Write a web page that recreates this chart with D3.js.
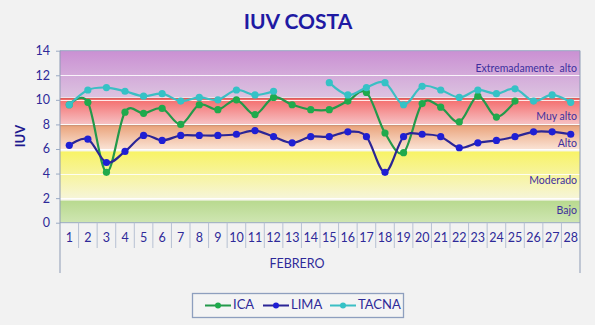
<!DOCTYPE html>
<html>
<head>
<meta charset="utf-8">
<script src="https://cdn.jsdelivr.net/npm/d3@7"></script>
<style>
  html, body { margin: 0; padding: 0; background: #f2f2f2; }
  svg { display: block; }
  text { font-family: Lato, "Open Sans", "DejaVu Sans", sans-serif; }
</style>
</head>
<body>
<svg id="chart" width="595" height="325"></svg>
<script>
// Days of February
const days = [1,2,3,4,5,6,7,8,9,10,11,12,13,14,15,16,17,18,19,20,21,22,23,24,25,26,27,28];

// Daily UV index per city (null = no reading)
const ica   = [9.6, 9.8, 4.1, 9.0, 8.9, 9.3, 8.0, 9.6, 9.2, 10.0, 8.8, 10.2, 9.6, 9.2, 9.2, 9.9, 10.6, 7.3, 5.7, 9.7, 9.4, 8.2, 10.3, 8.6, 9.9, null, null, null];
const lima  = [6.3, 6.8, 4.9, 5.8, 7.1, 6.7, 7.1, 7.1, 7.1, 7.2, 7.5, 7.0, 6.5, 7.0, 7.0, 7.4, 7.0, 4.1, 7.0, 7.2, 7.0, 6.1, 6.5, 6.7, 7.0, 7.4, 7.4, 7.2];
const tacna = [9.6, 10.8, 11.0, 10.7, 10.3, 10.5, 9.9, 10.2, 10.0, 10.8, 10.4, 10.7, null, null, 11.4, 10.4, 11.0, 11.4, 9.6, 11.1, 10.8, 10.2, 10.8, 10.5, 10.9, 9.9, 10.4, 9.8];

const seriesNames = ["ICA", "LIMA", "TACNA"];
const seriesValues = [ica, lima, tacna];

// Y axis ticks
const yTicks = [0, 2, 4, 6, 8, 10, 12, 14];

// UV risk categories: [lower, upper] limits
const bandNames  = ["Bajo", "Moderado", "Alto", "Muy alto", "Extremadamente alto"];
const bandLimits = [[0, 1.8], [2, 5.8], [6, 7.9], [8, 10.1], [10.2, 14]];

// ---- styles ----
const lineColors   = ["#23994a", "#2b2596", "#3bbfc4"];
const markerColors = ["#1faa4c", "#1f1fd4", "#35c2c6"];
const bandTop      = ["#b8d98f", "#f8f366", "#eaa47c", "#f46a6a", "#ca90d3"];
const bandBottom   = ["#cfe6b2", "#f6f5d8", "#fae2d4", "#f6c2c4", "#dcc3e0"];
const bandEdge     = [null, null, "#c98a6a", "#d9534f", null];
const textBlue = "#2e2a99";

const svg = d3.select("#chart");
const W = 595, H = 325;
const pLeft = 60, pRight = 580, pTop = 50.7, pBottom = 222.7;

svg.append("rect").attr("width", W).attr("height", H).attr("fill", "#f2f2f2");

const x = d3.scaleBand().domain(days).range([pLeft, pRight]).padding(0);
const y = d3.scaleLinear().domain([0, 14]).range([pBottom, pTop]);

// gradients for the category bands
const defs = svg.append("defs");
bandNames.forEach((n, i) => {
  const g = defs.append("linearGradient")
    .attr("id", "band" + i).attr("x1", 0).attr("y1", 0).attr("x2", 0).attr("y2", 1);
  g.append("stop").attr("offset", "0%").attr("stop-color", bandTop[i]);
  g.append("stop").attr("offset", "100%").attr("stop-color", bandBottom[i]);
});

// plot background (gaps between bands)
svg.append("rect")
  .attr("x", pLeft).attr("y", pTop)
  .attr("width", pRight - pLeft).attr("height", pBottom - pTop)
  .attr("fill", "#f7f6ee");

const bands = svg.append("g");
bandLimits.forEach((lim, i) => {
  bands.append("rect")
    .attr("x", pLeft).attr("width", pRight - pLeft)
    .attr("y", y(lim[1])).attr("height", y(lim[0]) - y(lim[1]))
    .attr("fill", `url(#band${i})`);
  if (bandEdge[i]) {
    bands.append("line")
      .attr("x1", pLeft).attr("x2", pRight)
      .attr("y1", y(lim[1])).attr("y2", y(lim[1]))
      .attr("stroke", bandEdge[i]).attr("stroke-width", 1);
  }
});

// horizontal gridlines
svg.append("g").selectAll("line")
  .data(yTicks.filter(t => t > 0 && t < 14))
  .join("line")
  .attr("x1", pLeft).attr("x2", pRight)
  .attr("y1", d => Math.round(y(d)) + 0.5).attr("y2", d => Math.round(y(d)) + 0.5)
  .attr("stroke", "#ffffff").attr("stroke-opacity", 0.85).attr("stroke-width", 1.2);

// category labels inside the plot
const bandLabelY = [0.95, 3.4, 6.4, 8.6, 12.5];
svg.append("g").selectAll("text")
  .data(bandNames)
  .join("text")
  .attr("x", pRight - 3)
  .attr("y", (d, i) => y(bandLabelY[i]))
  .attr("text-anchor", "end")
  .attr("dominant-baseline", "middle")
  .attr("font-size", 10.5)
  .attr("fill", "#3d2f9e")
  .attr("word-spacing", (d, i) => i === 4 ? 3 : 0)
  .text(d => d);

// frame
const frame = "#9aaac4";
svg.append("line").attr("x1", pLeft).attr("x2", pRight).attr("y1", pTop).attr("y2", pTop)
  .attr("stroke", frame);
svg.append("line").attr("x1", pLeft).attr("x2", pRight).attr("y1", pBottom).attr("y2", pBottom)
  .attr("stroke", frame);
svg.append("line").attr("x1", pLeft).attr("x2", pLeft).attr("y1", pTop).attr("y2", 273)
  .attr("stroke", "#8d9bb5");
svg.append("line").attr("x1", pRight).attr("x2", pRight).attr("y1", pTop).attr("y2", 273)
  .attr("stroke", "#8d9bb5");

// y axis
const yAxis = d3.axisLeft(y).tickValues(yTicks).tickSize(4).tickPadding(6);
const gy = svg.append("g").attr("transform", `translate(${pLeft},0)`).call(yAxis);
gy.select(".domain").remove();
gy.selectAll(".tick line").attr("stroke", frame);
gy.selectAll(".tick text")
  .attr("font-size", 12.5).attr("fill", textBlue)
  .attr("font-family", "Lato, 'Open Sans', sans-serif");

// x axis: category separators and day labels
const sep = svg.append("g");
days.slice(1).forEach(d => {
  sep.append("line")
    .attr("x1", x(d)).attr("x2", x(d))
    .attr("y1", pBottom).attr("y2", 248)
    .attr("stroke", "#b7c1d3");
});
svg.append("g").selectAll("text")
  .data(days)
  .join("text")
  .attr("x", d => x(d) + x.bandwidth() / 2)
  .attr("y", 239)
  .attr("text-anchor", "middle")
  .attr("dominant-baseline", "middle")
  .attr("font-size", 12.5)
  .attr("fill", textBlue)
  .text(d => d);

// series lines and markers
const line = d3.line()
  .defined(d => d.v !== null)
  .x(d => x(d.day) + x.bandwidth() / 2)
  .y(d => y(d.v))
  .curve(d3.curveCardinal.tension(0));

seriesValues.forEach((vals, i) => {
  const pts = days.map((day, k) => ({ day, v: vals[k] }));
  const g = svg.append("g");
  g.append("path")
    .datum(pts)
    .attr("d", line)
    .attr("fill", "none")
    .attr("stroke", lineColors[i])
    .attr("stroke-width", 2.2);
  g.selectAll("circle")
    .data(pts.filter(p => p.v !== null))
    .join("circle")
    .attr("cx", p => x(p.day) + x.bandwidth() / 2)
    .attr("cy", p => y(p.v))
    .attr("r", 3.6)
    .attr("fill", markerColors[i]);
});

// titles
svg.append("text")
  .attr("x", 298).attr("y", 24)
  .attr("text-anchor", "middle").attr("dominant-baseline", "middle")
  .attr("font-size", 21).attr("font-weight", "bold")
  .attr("fill", "#1f1aa3")
  .text("IUV COSTA");

svg.append("text")
  .attr("transform", "translate(22,136) rotate(-90)")
  .attr("text-anchor", "middle").attr("dominant-baseline", "middle")
  .attr("font-size", 13).attr("font-weight", "bold")
  .attr("fill", "#1f1a8f")
  .text("IUV");

svg.append("text")
  .attr("x", 297).attr("y", 265)
  .attr("text-anchor", "middle").attr("dominant-baseline", "middle")
  .attr("font-size", 12.5)
  .attr("fill", textBlue)
  .text("FEBRERO");

// legend
const legend = svg.append("g");
legend.append("rect")
  .attr("x", 192.5).attr("y", 293.5).attr("width", 211).attr("height", 24)
  .attr("fill", "#f4f4f4").attr("stroke", "#8e9fbe").attr("stroke-width", 1.3);
const legendX = [205, 263, 330];
seriesNames.forEach((n, i) => {
  const lx = legendX[i];
  legend.append("line")
    .attr("x1", lx).attr("x2", lx + 26).attr("y1", 305.5).attr("y2", 305.5)
    .attr("stroke", lineColors[i]).attr("stroke-width", 2);
  legend.append("circle").attr("cx", lx + 13).attr("cy", 305.5).attr("r", 3)
    .attr("fill", markerColors[i]);
  legend.append("text")
    .attr("x", lx + 28).attr("y", 305.5)
    .attr("dominant-baseline", "middle")
    .attr("font-size", 13).attr("fill", textBlue)
    .text(n);
});
</script>
</body>
</html>
